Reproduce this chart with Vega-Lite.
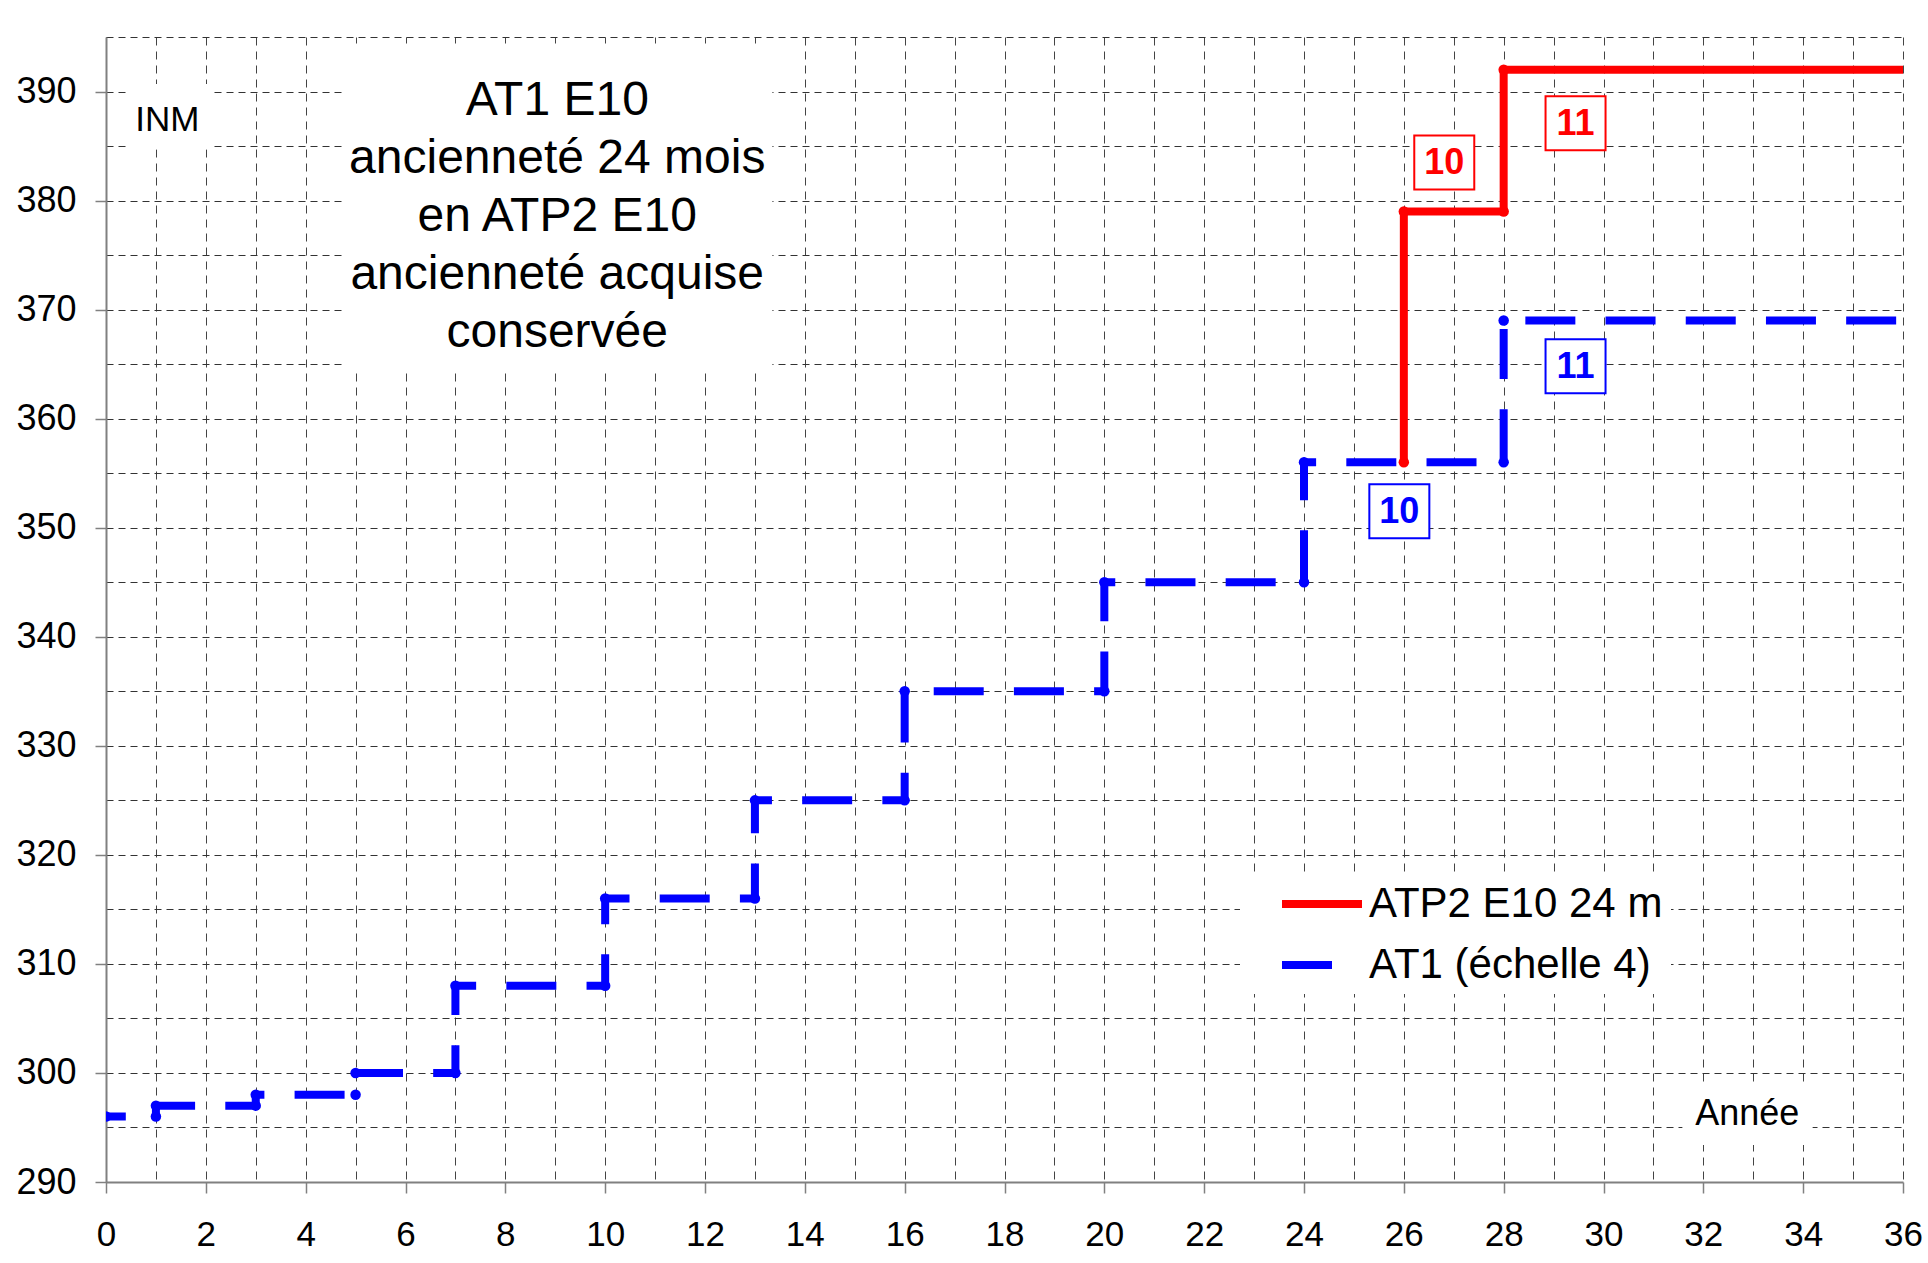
{
  "$schema": "https://vega.github.io/schema/vega-lite/v6.json",
  "width": 1797,
  "height": 1145,
  "autosize": {"type": "none"},
  "padding": {"left": 106, "top": 37, "right": 25, "bottom": 81},
  "background": "white",
  "config": {"view": {"stroke": null}, "font": "Liberation Sans"},
  "datasets": {
    "series": [
      {"s": "AT1 (échelle 4)", "i": 0, "x": 0, "y": 296},
      {"s": "AT1 (échelle 4)", "i": 1, "x": 1, "y": 296},
      {"s": "AT1 (échelle 4)", "i": 2, "x": 1, "y": 297},
      {"s": "AT1 (échelle 4)", "i": 3, "x": 3, "y": 297},
      {"s": "AT1 (échelle 4)", "i": 4, "x": 3, "y": 298},
      {"s": "AT1 (échelle 4)", "i": 5, "x": 5, "y": 298},
      {"s": "AT1 (échelle 4)", "i": 6, "x": 5, "y": 300},
      {"s": "AT1 (échelle 4)", "i": 7, "x": 7, "y": 300},
      {"s": "AT1 (échelle 4)", "i": 8, "x": 7, "y": 308},
      {"s": "AT1 (échelle 4)", "i": 9, "x": 10, "y": 308},
      {"s": "AT1 (échelle 4)", "i": 10, "x": 10, "y": 316},
      {"s": "AT1 (échelle 4)", "i": 11, "x": 13, "y": 316},
      {"s": "AT1 (échelle 4)", "i": 12, "x": 13, "y": 325},
      {"s": "AT1 (échelle 4)", "i": 13, "x": 16, "y": 325},
      {"s": "AT1 (échelle 4)", "i": 14, "x": 16, "y": 335},
      {"s": "AT1 (échelle 4)", "i": 15, "x": 20, "y": 335},
      {"s": "AT1 (échelle 4)", "i": 16, "x": 20, "y": 345},
      {"s": "AT1 (échelle 4)", "i": 17, "x": 24, "y": 345},
      {"s": "AT1 (échelle 4)", "i": 18, "x": 24, "y": 356},
      {"s": "AT1 (échelle 4)", "i": 19, "x": 28, "y": 356},
      {"s": "AT1 (échelle 4)", "i": 20, "x": 28, "y": 369},
      {"s": "AT1 (échelle 4)", "i": 21, "x": 36, "y": 369},
      {"s": "ATP2 E10 24 m", "i": 0, "x": 26, "y": 356},
      {"s": "ATP2 E10 24 m", "i": 1, "x": 26, "y": 379},
      {"s": "ATP2 E10 24 m", "i": 2, "x": 28, "y": 379},
      {"s": "ATP2 E10 24 m", "i": 3, "x": 28, "y": 392},
      {"s": "ATP2 E10 24 m", "i": 4, "x": 36, "y": 392}
    ],
    "badges": [
      {"s": "ATP2 E10 24 m", "x": 26.81, "y": 383.5, "t": "10"},
      {"s": "ATP2 E10 24 m", "x": 29.44, "y": 387.1, "t": "11"},
      {"s": "AT1 (échelle 4)", "x": 25.91, "y": 351.5, "t": "10"},
      {"s": "AT1 (échelle 4)", "x": 29.44, "y": 364.8, "t": "11"}
    ],
    "panels": [
      {"x1": 4.73, "x2": 13.35, "y1": 364.3, "y2": 394.4},
      {"x1": 0.44, "x2": 2.14, "y1": 384.7, "y2": 390.7},
      {"x1": 31.58, "x2": 34.19, "y1": 293.4, "y2": 298.9}
    ]
  },
  "layer": [
    {
      "data": {"name": "panels"},
      "mark": {"type": "rect", "fill": "white"},
      "encoding": {
        "x": {
          "field": "x1", "type": "quantitative", "title": null,
          "scale": {"domain": [0, 36], "nice": false, "zero": false},
          "axis": {
            "values": [0,1,2,3,4,5,6,7,8,9,10,11,12,13,14,15,16,17,18,19,20,21,22,23,24,25,26,27,28,29,30,31,32,33,34,35,36],
            "title": null,
            "grid": true, "gridDash": [8, 6], "gridColor": "#444444", "gridWidth": 1,
            "domainColor": "#808080", "domainWidth": 2,
            "tickColor": "#808080", "tickWidth": 1.5, "tickSize": 11,
            "tickOpacity": {"condition": {"test": "datum.value % 2 === 0", "value": 1}, "value": 0},
            "labelExpr": "datum.value % 2 === 0 ? datum.label : ''",
            "labelFont": "Liberation Sans", "labelFontSize": 35, "labelColor": "black",
            "labelPadding": 24, "labelFlush": false, "labelOverlap": false
          }
        },
        "x2": {"field": "x2"},
        "y": {
          "field": "y1", "type": "quantitative", "title": null,
          "scale": {"domain": [290, 395], "nice": false, "zero": false},
          "axis": {
            "values": [290,295,300,305,310,315,320,325,330,335,340,345,350,355,360,365,370,375,380,385,390,395],
            "title": null,
            "grid": true, "gridDash": [7, 5], "gridColor": "#333333", "gridWidth": 1,
            "domainColor": "#808080", "domainWidth": 2,
            "tickColor": "#808080", "tickWidth": 1.5, "tickSize": 11,
            "tickOpacity": {"condition": {"test": "datum.value % 10 === 0", "value": 1}, "value": 0},
            "labelExpr": "datum.value % 10 === 0 ? datum.label : ''",
            "labelFont": "Liberation Sans", "labelFontSize": 36, "labelColor": "black",
            "labelPadding": 19, "labelFlush": false, "labelOverlap": false
          }
        },
        "y2": {"field": "y2"}
      }
    },
    {
      "data": {"name": "series"},
      "mark": {"type": "line", "strokeWidth": 8, "strokeCap": "butt", "strokeJoin": "round", "strokeDashOffset": 30.2, "clip": true},
      "encoding": {
        "x": {"field": "x", "type": "quantitative", "title": null},
        "y": {"field": "y", "type": "quantitative", "title": null},
        "order": {"field": "i", "type": "quantitative"},
        "color": {
          "field": "s", "type": "nominal",
          "scale": {"domain": ["ATP2 E10 24 m", "AT1 (échelle 4)"], "range": ["#FF0000", "#0000FF"]},
          "legend": {
            "title": null, "orient": "none", "legendX": 1134, "legendY": 838,
            "fillColor": "white", "padding": 8, "symbolOffset": 30,
            "symbolType": "stroke", "symbolSize": 6400, "symbolStrokeWidth": 8,
            "clipHeight": 42, "rowPadding": 19,
            "labelFont": "Liberation Sans", "labelFontSize": 42, "labelColor": "black",
            "labelOffset": 3, "labelLimit": 0
          }
        },
        "strokeDash": {
          "field": "s", "type": "nominal",
          "scale": {"domain": ["ATP2 E10 24 m", "AT1 (échelle 4)"], "range": [[1, 0], [50, 30.2]]},
          "legend": {
            "title": null, "orient": "none", "legendX": 1134, "legendY": 838,
            "fillColor": "white", "padding": 8, "symbolOffset": 30,
            "symbolType": "stroke", "symbolSize": 6400, "symbolStrokeWidth": 8,
            "clipHeight": 42, "rowPadding": 19,
            "labelFont": "Liberation Sans", "labelFontSize": 42, "labelColor": "black",
            "labelOffset": 3, "labelLimit": 0
          }
        }
      }
    },
    {
      "data": {"name": "series"},
      "transform": [{"filter": "datum.x < 36"}],
      "mark": {"type": "point", "filled": true, "size": 110, "opacity": 1, "clip": true},
      "encoding": {
        "x": {"field": "x", "type": "quantitative", "title": null},
        "y": {"field": "y", "type": "quantitative", "title": null},
        "color": {"field": "s", "type": "nominal", "legend": null}
      }
    },
    {
      "data": {"name": "badges"},
      "mark": {"type": "point", "shape": "M-1,-0.9L1,-0.9L1,0.9L-1,0.9Z", "size": 3600, "filled": false, "fill": "white", "fillOpacity": 1, "strokeWidth": 2, "opacity": 1},
      "encoding": {
        "x": {"field": "x", "type": "quantitative", "title": null},
        "y": {"field": "y", "type": "quantitative", "title": null},
        "color": {"field": "s", "type": "nominal", "legend": null}
      }
    },
    {
      "data": {"name": "badges"},
      "mark": {"type": "text", "font": "Liberation Sans", "fontSize": 36, "fontWeight": "bold", "align": "center", "baseline": "middle", "dy": 1},
      "encoding": {
        "x": {"field": "x", "type": "quantitative", "title": null},
        "y": {"field": "y", "type": "quantitative", "title": null},
        "text": {"field": "t", "type": "nominal"},
        "color": {"field": "s", "type": "nominal", "legend": null}
      }
    },
    {
      "data": {"values": [{"x": 9.04, "y": 389.1, "t": "AT1 E10\nancienneté 24 mois\nen ATP2 E10\nancienneté acquise\nconservée"}]},
      "mark": {"type": "text", "font": "Liberation Sans", "fontSize": 48, "lineHeight": 58, "lineBreak": "\n", "align": "center", "baseline": "middle", "color": "black"},
      "encoding": {
        "x": {"field": "x", "type": "quantitative", "title": null},
        "y": {"field": "y", "type": "quantitative", "title": null},
        "text": {"field": "t", "type": "nominal"}
      }
    },
    {
      "data": {"values": [{"x": 1.23, "y": 387.4, "t": "INM"}]},
      "mark": {"type": "text", "font": "Liberation Sans", "fontSize": 35, "align": "center", "baseline": "middle", "color": "black"},
      "encoding": {
        "x": {"field": "x", "type": "quantitative", "title": null},
        "y": {"field": "y", "type": "quantitative", "title": null},
        "text": {"field": "t", "type": "nominal"}
      }
    },
    {
      "data": {"values": [{"x": 32.88, "y": 296.2, "t": "Année"}]},
      "mark": {"type": "text", "font": "Liberation Sans", "fontSize": 36, "align": "center", "baseline": "middle", "color": "black"},
      "encoding": {
        "x": {"field": "x", "type": "quantitative", "title": null},
        "y": {"field": "y", "type": "quantitative", "title": null},
        "text": {"field": "t", "type": "nominal"}
      }
    }
  ]
}
